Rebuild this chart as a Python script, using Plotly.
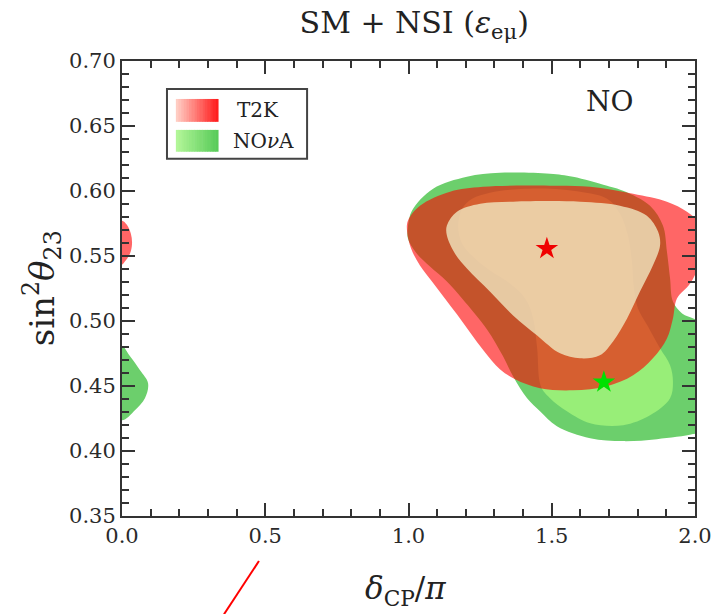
import plotly.graph_objects as go

# ---- allowed regions in the (delta_CP/pi, sin^2 theta_23) plane ----
# NOvA, outer (90%) region
nova_outer_x = [0.998, 0.998, 1.012, 1.086, 1.204, 1.319, 1.494, 1.574, 1.693, 1.749, 1.843,
                1.888, 1.902, 1.913, 1.923, 1.955, 2.017, 2.045, 2.017, 1.993, 1.867, 1.749,
                1.634, 1.518, 1.459, 1.414, 1.365, 1.330, 1.274, 1.187, 1.134, 1.075, 1.026]
nova_outer_y = [0.5634, 0.5726, 0.5849, 0.6018, 0.6110, 0.6140, 0.6133, 0.6110, 0.6041, 0.6002, 0.5887,
                0.5734, 0.5534, 0.5327, 0.5150, 0.5058, 0.4981, 0.4559, 0.4153, 0.4130, 0.4091, 0.4076,
                0.4099, 0.4191, 0.4306, 0.4406, 0.4575, 0.4728, 0.4935, 0.5173, 0.5304, 0.5419, 0.5526]

# NOvA outer region wrapping round to delta_CP = 0
nova_wrap_x = [0.0, 0.028, 0.063, 0.091, 0.080, 0.045, 0.0, -0.045, -0.080, -0.091, -0.063, -0.028]
nova_wrap_y = [0.4805, 0.4728, 0.4621, 0.4521, 0.4406, 0.4314, 0.4237, 0.4314, 0.4406, 0.4521, 0.4621, 0.4728]

# NOvA, inner (68%) region
nova_inner_x = [1.693, 1.738, 1.766, 1.780, 1.787, 1.801, 1.836, 1.878, 1.913, 1.923, 1.913, 1.843,
                1.749, 1.634, 1.553, 1.494, 1.462, 1.449, 1.435, 1.407, 1.354, 1.284, 1.232, 1.187,
                1.173, 1.187, 1.222, 1.284, 1.354, 1.494, 1.574]
nova_inner_y = [0.5941, 0.5826, 0.5657, 0.5457, 0.5250, 0.5097, 0.4958, 0.4790, 0.4659, 0.4536, 0.4406, 0.4275,
                0.4199, 0.4214, 0.4306, 0.4406, 0.4498, 0.4790, 0.5020, 0.5173, 0.5288, 0.5388, 0.5480, 0.5595,
                0.5726, 0.5864, 0.5941, 0.5987, 0.6010, 0.6018, 0.6002]

# T2K, outer (90%) region
t2k_outer_x = [0.995, 0.998, 1.040, 1.145, 1.260, 1.494, 1.634, 1.784, 1.902, 1.972, 2.017, 2.035,
               2.017, 1.983, 1.937, 1.923, 1.902, 1.853, 1.784, 1.693, 1.574, 1.459, 1.372, 1.319,
               1.264, 1.215, 1.169, 1.127, 1.082, 1.040, 1.009]
t2k_outer_y = [0.5688, 0.5772, 0.5887, 0.5995, 0.6033, 0.6041, 0.6033, 0.5979, 0.5918, 0.5841, 0.5749, 0.5595,
               0.5442, 0.5288, 0.5173, 0.5020, 0.4866, 0.4713, 0.4582, 0.4498, 0.4467, 0.4483, 0.4552, 0.4628,
               0.4767, 0.4912, 0.5051, 0.5173, 0.5304, 0.5427, 0.5557]

# T2K outer region wrapping round to delta_CP = 0
t2k_wrap_x = [0.0, 0.017, 0.031, 0.035, 0.028, 0.010, 0.0, -0.010, -0.028, -0.035, -0.031, -0.017]
t2k_wrap_y = [0.5772, 0.5741, 0.5672, 0.5595, 0.5519, 0.5457, 0.5434, 0.5457, 0.5519, 0.5595, 0.5672, 0.5741]

# T2K, inner (68%) region
t2k_inner_x = [1.134, 1.134, 1.169, 1.250, 1.365, 1.599, 1.738, 1.832, 1.871, 1.878, 1.853, 1.808,
               1.763, 1.714, 1.668, 1.599, 1.529, 1.449, 1.365, 1.284, 1.204, 1.162]
t2k_inner_y = [0.5657, 0.5734, 0.5841, 0.5902, 0.5918, 0.5918, 0.5887, 0.5810, 0.5688, 0.5580, 0.5427, 0.5227,
               0.5020, 0.4843, 0.4736, 0.4713, 0.4751, 0.4889, 0.5043, 0.5227, 0.5404, 0.5519]

# best-fit points
t2k_best = (1.483, 0.5557)
nova_best = (1.682, 0.4529)

x_ticks = [0.0, 0.5, 1.0, 1.5, 2.0]
y_ticks = [0.35, 0.40, 0.45, 0.50, 0.55, 0.60, 0.65, 0.70]

FONT = "DejaVu Serif"
AXIS = "#333333"
TEXT = "#222222"

fig = go.Figure()


def region(xs, ys, color):
    fig.add_trace(go.Scatter(
        x=list(xs) + [xs[0]], y=list(ys) + [ys[0]],
        mode="lines", fill="toself", fillcolor=color,
        line=dict(width=0, shape="spline", smoothing=1.0, color=color),
        hoverinfo="skip", showlegend=False))


region(nova_wrap_x, nova_wrap_y, "rgb(108,207,108)")
region(nova_outer_x, nova_outer_y, "rgb(108,207,108)")
region(nova_inner_x, nova_inner_y, "rgb(152,238,120)")
region(t2k_wrap_x, t2k_wrap_y, "rgba(255,0,0,0.6)")
region(t2k_outer_x, t2k_outer_y, "rgba(255,0,0,0.6)")
region(t2k_inner_x, t2k_inner_y, "rgba(242,238,200,0.76)")

fig.add_trace(go.Scatter(x=[t2k_best[0]], y=[t2k_best[1]], mode="markers",
                         marker=dict(symbol="star", size=17, color="rgb(240,0,0)", line=dict(width=0)),
                         showlegend=False, hoverinfo="skip"))
fig.add_trace(go.Scatter(x=[nova_best[0]], y=[nova_best[1]], mode="markers",
                         marker=dict(symbol="star", size=17, color="rgb(0,225,0)", line=dict(width=0)),
                         showlegend=False, hoverinfo="skip"))

# ---- hand-drawn legend box with gradient swatches ----
shapes = [dict(type="rect", xref="x", yref="y", x0=0.157, x1=0.646, y0=0.6248, y1=0.6785,
               fillcolor="white", line=dict(color="#444444", width=2), layer="above")]
steps = 16
sw_x0, sw_x1 = 0.188, 0.335
w = (sw_x1 - sw_x0) / steps
for i in range(steps):
    t = i / (steps - 1)
    red = (255, int(205 - 175 * t), int(195 - 165 * t))
    green = (int(178 - 88 * t), int(246 - 42 * t), int(152 - 62 * t))
    shapes.append(dict(type="rect", xref="x", yref="y", x0=sw_x0 + i * w, x1=sw_x0 + (i + 1) * w + 0.002,
                       y0=0.6532, y1=0.6708, fillcolor="rgb(%d,%d,%d)" % red,
                       line=dict(width=0), layer="above"))
    shapes.append(dict(type="rect", xref="x", yref="y", x0=sw_x0 + i * w, x1=sw_x0 + (i + 1) * w + 0.002,
                       y0=0.6302, y1=0.6470, fillcolor="rgb(%d,%d,%d)" % green,
                       line=dict(width=0), layer="above"))

# pointer line below the axis
shapes.append(dict(type="line", xref="paper", yref="paper", x0=0.239, y0=-0.099, x1=0.178, y1=-0.216,
                   line=dict(color="red", width=2)))

annotations = [
    dict(x=0.475, y=0.6624, xref="x", yref="y", text="T2K", showarrow=False,
         xanchor="center", yanchor="middle", font=dict(family=FONT, size=20, color=TEXT)),
    dict(x=0.495, y=0.6386, xref="x", yref="y", text="NO<i>ν</i>A", showarrow=False,
         xanchor="center", yanchor="middle", font=dict(family=FONT, size=20, color=TEXT)),
    dict(x=1.703, y=0.6685, xref="x", yref="y", text="NO", showarrow=False,
         xanchor="center", yanchor="middle", font=dict(family=FONT, size=28, color=TEXT)),
    dict(x=0.494, y=-0.163, xref="paper", yref="paper", text="<i>δ</i><sub>CP</sub>/<i>π</i>",
         xanchor="center", yanchor="middle",
         showarrow=False, font=dict(family=FONT, size=31, color=TEXT)),
    dict(x=-0.14, y=0.5, xref="paper", yref="paper", text="sin<sup>2</sup><i>θ</i><sub>23</sub>",
         xanchor="center", yanchor="middle",
         textangle=-90, showarrow=False, font=dict(family=FONT, size=34, color=TEXT)),
]

axis_common = dict(showline=True, linewidth=2, linecolor=AXIS, mirror="allticks",
                   ticks="inside", ticklen=13, tickwidth=2, tickcolor=AXIS,
                   showgrid=False, zeroline=False, automargin=False,
                   tickfont=dict(family=FONT, size=21, color="#2a2a2a"))

fig.update_layout(
    width=715, height=614,
    margin=dict(l=122, r=20, t=61, b=98),
    plot_bgcolor="white", paper_bgcolor="white",
    title=dict(text="SM + NSI (<i>ε</i><sub>eμ</sub>)", x=0.51, xref="paper",
               y=1 - 22 / 614, yref="container", yanchor="middle", xanchor="center",
               font=dict(family=FONT, size=30, color=TEXT)),
    xaxis=dict(range=[0, 2], tickvals=x_ticks, tickformat=".1f",
               minor=dict(dtick=0.1, ticks="inside", ticklen=7, tickwidth=1.5, tickcolor=AXIS),
               **axis_common),
    yaxis=dict(range=[0.35, 0.70], tickvals=y_ticks, tickformat=".2f",
               minor=dict(dtick=0.01, ticks="inside", ticklen=7, tickwidth=1.5, tickcolor=AXIS),
               **axis_common),
    shapes=shapes,
    annotations=annotations,
)

fig.write_html("out.html")
